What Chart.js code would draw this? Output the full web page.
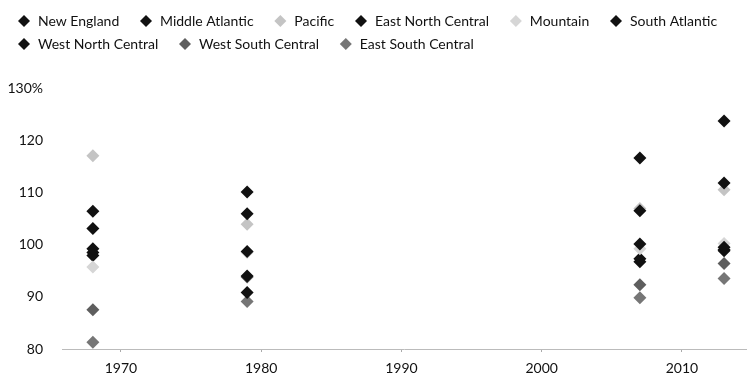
<!DOCTYPE html>
<html lang="en">
<head>
  <meta charset="UTF-8" />
  <title>Regional ratio chart</title>
  <script src="https://cdn.jsdelivr.net/npm/chart.js"></script>
  <style>
    body {
      margin: 0;
      background: #fff;
    }
    .wrap {
      width: 753px;
      height: 375px;
    }
  </style>
</head>
<body>
  <div class="wrap">
    <canvas id="regionChart"></canvas>
  </div>

  <script>
    // years observed
    const years = [1968, 1979, 2007, 2013];

    const regions = [
      'New England', 'Middle Atlantic', 'Pacific', 'East North Central', 'Mountain',
      'South Atlantic', 'West North Central', 'West South Central', 'East South Central'
    ];

    // values in % per region, same order as years
    const newEngland       = [106.4, 110.1, 116.6, 123.7];
    const middleAtlantic   = [103.1, 105.9, 106.5, 111.8];
    const pacific          = [117.0, 103.9, 106.9, 110.5];
    const eastNorthCentral = [99.2, 98.7, 100.1, 99.5];
    const mountain         = [95.7, 98.5, 99.2, 100.2];
    const southAtlantic    = [97.9, 94.0, 97.3, 98.8];
    const westNorthCentral = [98.5, 90.8, 96.7, 99.0];
    const westSouthCentral = [87.5, 93.8, 92.3, 96.4];
    const eastSouthCentral = [81.3, 89.1, 89.8, 93.5];

    const xTicks = [1970, 1980, 1990, 2000, 2010];
    const yTicks = [80, 90, 100, 110, 120, 130];

    const seriesValues = [newEngland, middleAtlantic, pacific, eastNorthCentral, mountain,
      southAtlantic, westNorthCentral, westSouthCentral, eastSouthCentral];
    const colors = ['#111', '#111', '#c4c4c4', '#111', '#d6d6d6', '#111', '#111', '#5e5e5e', '#767676'];

    const datasets = regions.map((name, i) => ({
      label: name,
      data: years.map((y, j) => ({ x: y, y: seriesValues[i][j] })),
      backgroundColor: colors[i],
      borderColor: colors[i],
      borderWidth: 0,
      pointStyle: 'rectRot',
      pointRadius: 6.5,
      pointHoverRadius: 6.5,
      showLine: false
    }));

    const font = { family: "Lato, sans-serif", size: 14 };

    // fixed legend block height so the plot starts where it should
    const legendHeight = {
      id: 'legendHeight',
      beforeInit(chart) {
        const fit = chart.legend.fit;
        chart.legend.fit = function () {
          fit.call(this);
          this.height = 83;
        };
      }
    };

    new Chart(document.getElementById('regionChart'), {
      type: 'scatter',
      data: { datasets },
      plugins: [legendHeight],
      options: {
        responsive: true,
        maintainAspectRatio: false,
        animation: false,
        layout: { padding: { left: 8, right: 0, top: 5, bottom: 0 } },
        plugins: {
          tooltip: { enabled: false },
          legend: {
            position: 'top',
            align: 'start',
            labels: {
              usePointStyle: true,
              boxHeight: 8.5,
              boxWidth: 17,
              padding: 9,
              color: '#111',
              font: font,
              generateLabels: chart => Chart.defaults.plugins.legend.labels.generateLabels(chart)
                .map(l => ({ ...l, text: l.text + '   ' }))
            }
          }
        },
        scales: {
          x: {
            type: 'linear',
            min: 1965.8,
            max: 2014.6,
            afterBuildTicks: s => { s.ticks = xTicks.map(v => ({ value: v })); },
            afterFit: s => { s.height = 26; },
            grid: { drawOnChartArea: false, drawTicks: true, tickLength: 3, color: '#aaa' },
            border: { display: true, color: '#bbb', dash: [2, 2] },
            ticks: { color: '#111', font: font, padding: 8, maxRotation: 0, callback: v => String(v) }
          },
          y: {
            min: 80,
            max: 130,
            afterBuildTicks: s => { s.ticks = yTicks.map(v => ({ value: v })); },
            afterFit: s => { s.width = 54; },
            grid: { display: false },
            border: { display: false },
            ticks: {
              color: '#111',
              font: font,
              padding: 11,
              callback: v => v === 130 ? v + '%' : v
            }
          }
        }
      }
    });
  </script>
</body>
</html>
